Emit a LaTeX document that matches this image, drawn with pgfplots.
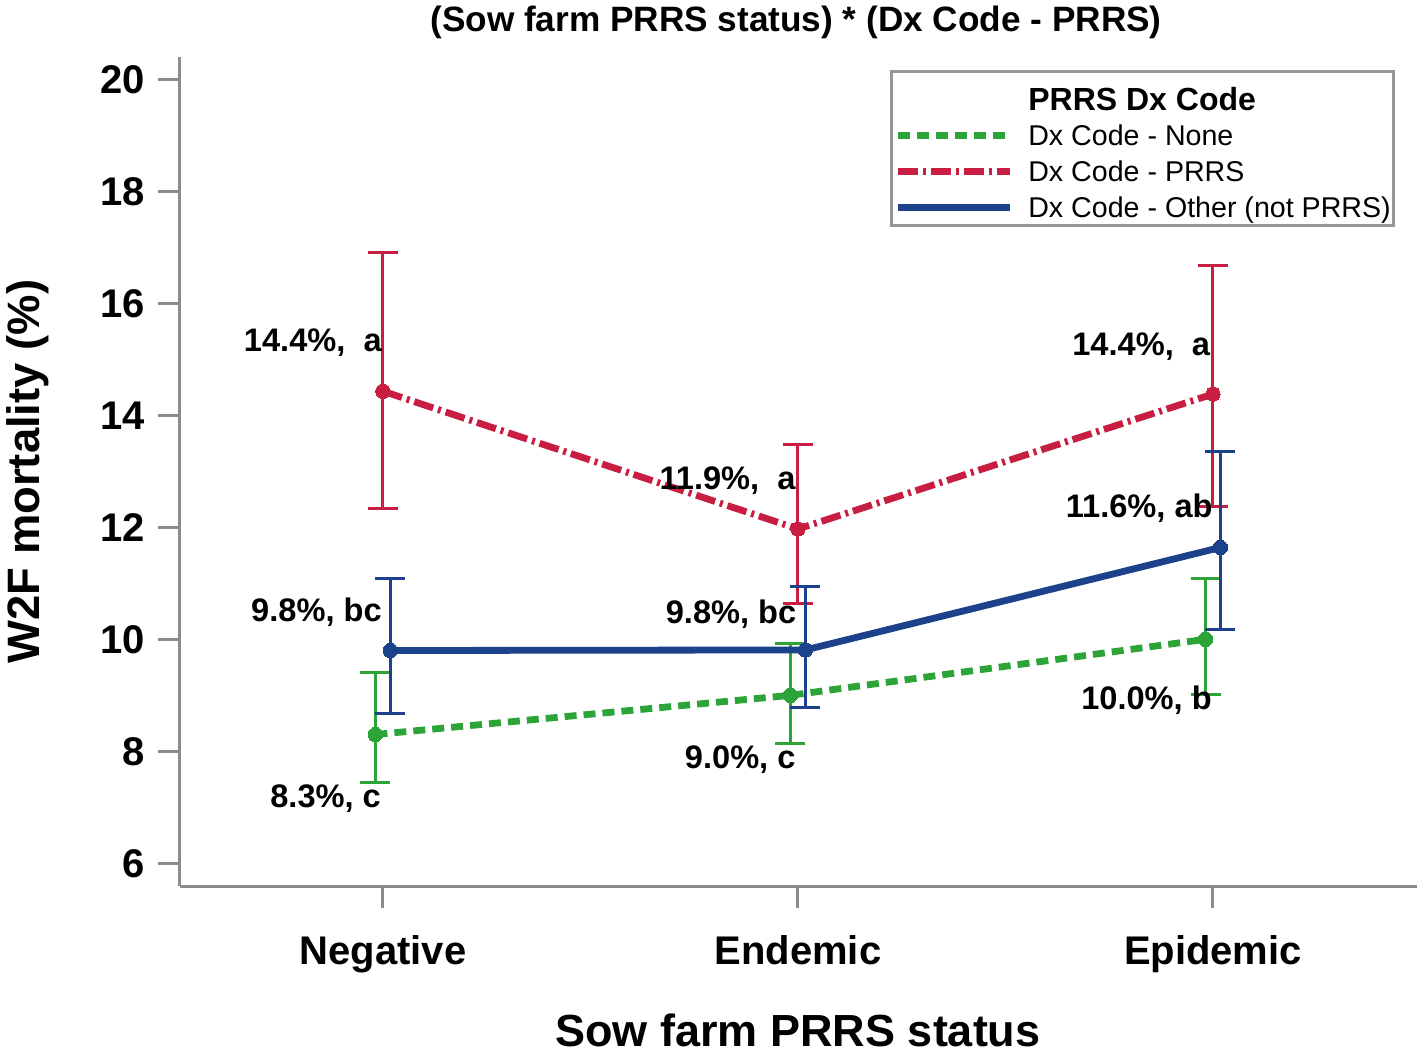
\documentclass[border=0pt]{standalone}
\usepackage{fontspec}
\setmainfont{Liberation Sans}
\usepackage{pgfplots}
\usepackage{pgfplotstable}
\pgfplotsset{compat=1.18}

\definecolor{cgreen}{RGB}{44,164,56}
\definecolor{cred}{RGB}{200,30,66}
\definecolor{cblue}{RGB}{28,66,140}
\definecolor{axisgray}{RGB}{140,140,140}
\definecolor{leggray}{RGB}{150,150,150}

% x y upper-error lower-error
\pgfplotstableread{
x y ep em
-0.018 8.30 1.10 0.85
0.982 9.00 0.93 0.86
1.982 10.00 1.09 0.99
}\greentab
\pgfplotstableread{
x y ep em
0 14.43 2.47 2.10
1 11.97 1.50 1.33
2 14.38 2.30 2.01
}\redtab
\pgfplotstableread{
x y ep em
0.018 9.80 1.28 1.13
1.018 9.81 1.13 1.02
2.018 11.64 1.71 1.47
}\bluetab

\newcommand{\lab}{\bfseries\fontsize{16.3bp}{18bp}\selectfont}

\begin{document}
\begin{tikzpicture}
\useasboundingbox (-90bp,-84.5bp) rectangle (621.5bp,443bp);
\begin{axis}[
  at={(0,0)}, anchor=south west,
  scale only axis, width=618.5bp, height=414.5bp,
  xmin=-0.489, xmax=2.4916, ymin=5.595, ymax=20.398,
  axis x line*=bottom, axis y line*=left,
  axis line style={axisgray, line width=1.5bp},
  tick style={axisgray, line width=1.5bp},
  major tick length=11bp, tick align=outside,
  xtick={0,1,2}, xticklabels={Negative,Endemic,Epidemic},
  ytick={6,8,...,20},
  /pgf/number format/assume math mode=true,
  ticklabel style={font=\bfseries\fontsize{20bp}{22bp}\selectfont, text=black},
  xticklabel style={yshift=-10bp},
  yticklabel style={xshift=-3bp},
  xlabel={Sow farm PRRS status},
  ylabel={W2F mortality (\%)},
  xlabel style={font=\bfseries\fontsize{22.5bp}{24bp}\selectfont, at={(axis description cs:0.4996,-0.1737)}, anchor=center},
  ylabel style={font=\bfseries\fontsize{22.7bp}{24bp}\selectfont, at={(axis description cs:-0.1229,0.5)}, anchor=center},
  every axis title shift=0pt,
  title={(Sow farm PRRS status) * (Dx Code - PRRS)},
  title style={font=\bfseries\fontsize{17.6bp}{19bp}\selectfont, at={(axis description cs:0.498,1.0422)}, anchor=center},
  legend cell align=left,
  legend image code/.code={\draw[#1] (0bp,1.5bp) -- (56bp,1.5bp);},
  legend style={at={(axis description cs:0.574,0.9843)}, anchor=north west,
    draw=leggray, line width=1.5bp, fill=white,
    inner xsep=1.5bp, inner ysep=1bp, row sep=5bp,
    font=\fontsize{14.3bp}{16bp}\selectfont,
    nodes={inner sep=0pt, text height=10bp, text depth=3bp},
    /tikz/every odd column/.append style={column sep=7.5bp},
    /tikz/every even column/.append style={column sep=4bp}},
  every axis plot/.append style={line width=3.4bp, line cap=butt},
  error bars/y dir=both, error bars/y explicit,
  error bars/error bar style={solid, line width=1.5bp},
  error bars/error mark options={rotate=90, mark size=7.5bp, line width=1.5bp, solid},
]
\addlegendimage{empty legend}
\addlegendentry[text height=18.25bp, text depth=2.75bp, font=\bfseries\fontsize{16bp}{18bp}\selectfont]{PRRS Dx Code}

\addplot[cgreen, dash pattern=on 6bp off 3.5bp, mark=*, mark size=3.6bp, mark options={solid, line width=0pt}]
  table[x=x, y=y, y error plus=ep, y error minus=em] {\greentab};
\addlegendentry{Dx Code - None}

\addplot[cred, dash pattern=on 10bp off 2.5bp on 1.5bp off 2.5bp, mark=*, mark size=3.6bp, mark options={solid, line width=0pt}]
  table[x=x, y=y, y error plus=ep, y error minus=em] {\redtab};
\addlegendentry{Dx Code - PRRS}

\addplot[cblue, solid, mark=*, mark size=3.6bp, mark options={solid, line width=0pt}]
  table[x=x, y=y, y error plus=ep, y error minus=em] {\bluetab};
\addlegendentry{Dx Code - Other (not PRRS)}

\node[anchor=base east, inner sep=0pt, font=\lab] at (axis cs:-0.002,15.145) {14.4\%,~~a};
\node[anchor=base east, inner sep=0pt, font=\lab] at (axis cs:-0.002,10.315) {9.8\%, bc};
\node[anchor=base east, inner sep=0pt, font=\lab] at (axis cs:-0.004,7.0) {8.3\%, c};
\node[anchor=base east, inner sep=0pt, font=\lab] at (axis cs:0.995,12.675) {11.9\%,~~a};
\node[anchor=base east, inner sep=0pt, font=\lab] at (axis cs:0.997,10.285) {9.8\%, bc};
\node[anchor=base east, inner sep=0pt, font=\lab] at (axis cs:0.995,7.695) {9.0\%, c};
\node[anchor=base east, inner sep=0pt, font=\lab] at (axis cs:1.994,15.075) {14.4\%,~~a};
\node[anchor=base east, inner sep=0pt, font=\lab] at (axis cs:2.0,12.17) {11.6\%, ab};
\node[anchor=base east, inner sep=0pt, font=\lab] at (axis cs:1.998,8.745) {10.0\%, b};
\end{axis}
\end{tikzpicture}
\end{document}
